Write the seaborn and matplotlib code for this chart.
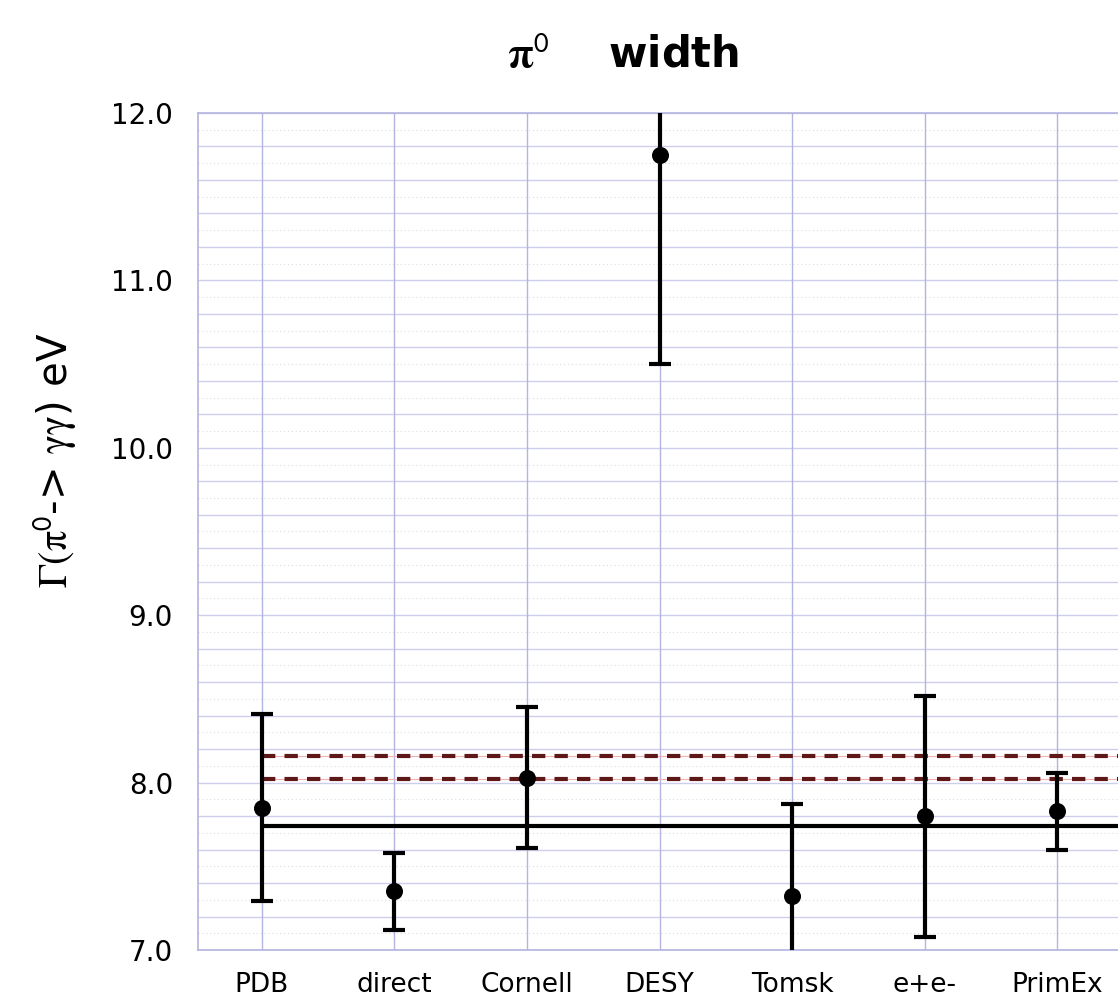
import numpy as np
import pandas as pd
import matplotlib
matplotlib.use("Agg")
import matplotlib.pyplot as plt
import seaborn as sns

# measurements of the pi0 -> gamma gamma width (eV)
experiments = ["PDB", "direct", "Cornell", "DESY", "Tomsk", "e+e-", "PrimEx"]
width = [7.85, 7.35, 8.03, 11.75, 7.32, 7.80, 7.83]
error = [0.56, 0.23, 0.42, 1.25, 0.55, 0.72, 0.23]

theory = 7.74            # solid black line
band = [8.02, 8.16]      # dashed dark-red lines

df = pd.DataFrame({"experiment": experiments, "width": width, "error": error})

sns.set_style("white")
plt.rcParams["font.family"] = ["DejaVu Sans"]
plt.rcParams["mathtext.fontset"] = "stix"
plt.rcParams["text.color"] = "black"
plt.rcParams["axes.labelcolor"] = "black"
plt.rcParams["xtick.color"] = "black"
plt.rcParams["ytick.color"] = "black"

fig = plt.figure(figsize=(11.18, 10.05), dpi=100)
ax = fig.add_axes([0.177, 0.0547, 0.8257, 0.8329])

# grid
for y in np.arange(7.0, 12.01, 0.2):
    ax.axhline(y, color="#cdcdee", lw=1.0, zorder=0)
for y in np.arange(7.1, 12.0, 0.2):
    ax.axhline(y, color="#dcdcdc", lw=0.8, ls=(0, (1, 2.5)), zorder=0)
for i in range(len(experiments)):
    ax.axvline(i, color="#b4b4e0", lw=1.0, zorder=0)

# reference lines start at the first point
x0, x1 = 0, len(experiments) + 1
ax.hlines(theory, x0, x1, color="black", lw=3, zorder=2)
for b in band:
    ax.hlines(b, x0, x1, color="#f4b0b0", lw=0.8, zorder=1)
    ax.hlines(b, x0, x1, color="#5e1818", lw=3, ls=(0, (3.2, 2.2)), zorder=2)

ax.errorbar(np.arange(len(experiments)), df["width"], yerr=df["error"],
            fmt="none", ecolor="black", elinewidth=3, capsize=8, capthick=3, zorder=3)
sns.scatterplot(data=df, x="experiment", y="width", color="black", s=150,
                edgecolor="black", linewidth=0, ax=ax, zorder=4, legend=False)

ax.set_xlim(-0.483, 6.48)
ax.set_ylim(7.0, 12.0)
ax.set_yticks(np.arange(7.0, 12.01, 1.0))
ax.set_yticklabels([f"{v:.1f}" for v in np.arange(7.0, 12.01, 1.0)])
ax.set_yticks(np.arange(7.0, 12.01, 0.2), minor=True)
ax.tick_params(axis="y", which="major", labelsize=20, length=6, direction="in",
               color="#8888cc", pad=18)
ax.tick_params(axis="y", which="minor", length=4, direction="in", color="#8888cc")
ax.tick_params(axis="x", labelsize=19, length=0, pad=16)
ax.set_xlabel("")
ax.set_ylabel(r"$\mathrm{\Gamma(\pi}^{\mathsf{0}}$-> $\mathrm{\gamma\gamma}$) eV", fontsize=29)
ax.yaxis.set_label_coords(-0.13, 0.585)
for name, s in ax.spines.items():
    s.set_color("#b4b4e0")
    s.set_linewidth(1.2)
ax.spines["right"].set_visible(False)

fig.text(0.557, 0.944, r"$\mathbf{\pi}^{\mathsf{0}}$    width", ha="center", va="center",
         fontsize=30, fontweight="bold")

fig.savefig("out.png", dpi=100)
